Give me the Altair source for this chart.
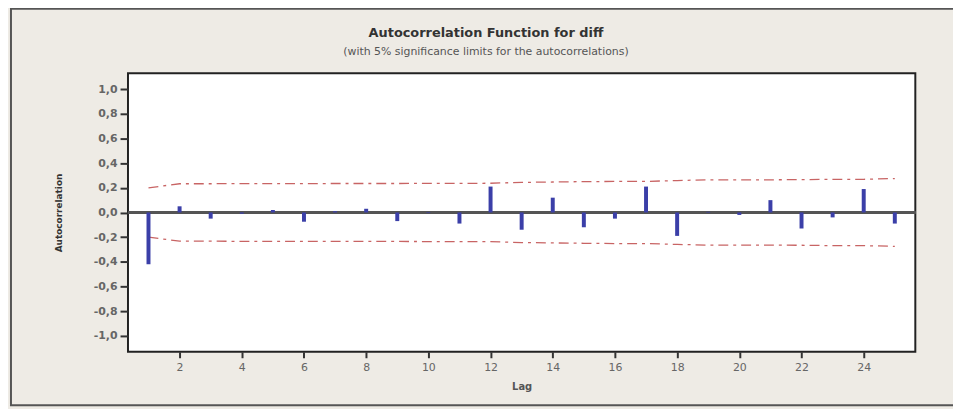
import altair as alt
import pandas as pd

lags = list(range(1, 26))
acf = [-0.42, 0.05, -0.05, -0.01, 0.02, -0.075, 0.01, 0.03, -0.07, -0.005,
       -0.09, 0.21, -0.14, 0.12, -0.12, -0.05, 0.21, -0.19, 0.005, -0.02,
       0.10, -0.13, -0.04, 0.19, -0.09]
upper = [0.200, 0.233, 0.233, 0.234, 0.234, 0.234, 0.235, 0.235, 0.235, 0.236,
         0.236, 0.237, 0.244, 0.247, 0.250, 0.252, 0.252, 0.259, 0.265, 0.265,
         0.265, 0.266, 0.269, 0.269, 0.275]
lower = [-v for v in upper]
x_ticks = list(range(2, 25, 2))
y_ticks = [-1.0, -0.8, -0.6, -0.4, -0.2, 0.0, 0.2, 0.4, 0.6, 0.8, 1.0]
title_text = "Autocorrelation Function for diff"
subtitle_text = "(with 5% significance limits for the autocorrelations)"

df = pd.DataFrame({"Lag": lags, "ACF": acf, "Upper": upper, "Lower": lower})

W, H = 794, 281
FONT = "DejaVu Sans"

xscale = alt.Scale(domain=[0.5, 25.5], nice=False, zero=False)
yscale = alt.Scale(domain=[-1.13, 1.13], nice=False)

xaxis = alt.Axis(values=x_ticks, title="Lag", grid=False, domain=False,
                 labelColor="#666", labelFontSize=11, labelFont=FONT,
                 labelOverlap=False,
                 tickColor="#333", tickSize=6, tickWidth=2, labelPadding=4,
                 titleFont=FONT, titleFontSize=10, titleFontWeight="bold",
                 titleColor="#555", titlePadding=9)
yaxis = alt.Axis(values=y_ticks, title="Autocorrelation", grid=False, domain=False,
                 labelExpr="replace(replace(format(datum.value, '.1f'), '.', ','), '\u2212', '-')",
                 labelColor="#666", labelFontSize=11, labelFont=FONT,
                 labelFontWeight="bold", labelOverlap=False,
                 tickColor="#333", tickSize=8, tickWidth=2, labelPadding=3,
                 titleFont=FONT, titleFontSize=9, titleFontWeight="bold",
                 titleColor="#333", titlePadding=30)

base = alt.Chart(df)
one = pd.DataFrame({"a": [0]})

frame = alt.Chart(one).mark_rect(
    fill=None, stroke="#555", strokeWidth=2
).encode(x=alt.value(-118), x2=alt.value(840), y=alt.value(-65), y2=alt.value(335))

title = alt.Chart(one).mark_text(
    font=FONT, fontSize=13, fontWeight="bold", color="#333", align="center", baseline="alphabetic"
).encode(x=alt.value(361), y=alt.value(-36), text=alt.value(title_text))
subtitle = alt.Chart(one).mark_text(
    font=FONT, fontSize=11, color="#555", align="center", baseline="alphabetic"
).encode(x=alt.value(361), y=alt.value(-18), text=alt.value(subtitle_text))

zero = base.mark_rule(color="#555", strokeWidth=2).encode(
    y=alt.Y(datum=0, scale=yscale, axis=yaxis))

bars = base.mark_bar(size=4, color="#3b3fa8").encode(
    x=alt.X("Lag:Q", scale=xscale, axis=xaxis),
    y=alt.Y("ACF:Q", scale=yscale, axis=yaxis),
)

dash = [10, 5, 3, 5]
up = base.mark_line(color="#c86464", strokeWidth=1.3, strokeDash=dash).encode(
    x=alt.X("Lag:Q", scale=xscale, axis=xaxis), y=alt.Y("Upper:Q", scale=yscale, axis=yaxis))
lo = base.mark_line(color="#c86464", strokeWidth=1.3, strokeDash=dash).encode(
    x=alt.X("Lag:Q", scale=xscale, axis=xaxis), y=alt.Y("Lower:Q", scale=yscale, axis=yaxis))

chart = alt.layer(frame, title, subtitle, up, lo, zero, bars).properties(
    width=W, height=H,
    autosize=alt.AutoSizeParams(type="none"),
    padding={"left": 121, "top": 64, "right": 38, "bottom": 56},
    background="#eeebe5",
).configure_view(stroke="#222", strokeWidth=2, fill="white")

chart.save("out.html", embed_options={"renderer": "svg", "actions": False})
